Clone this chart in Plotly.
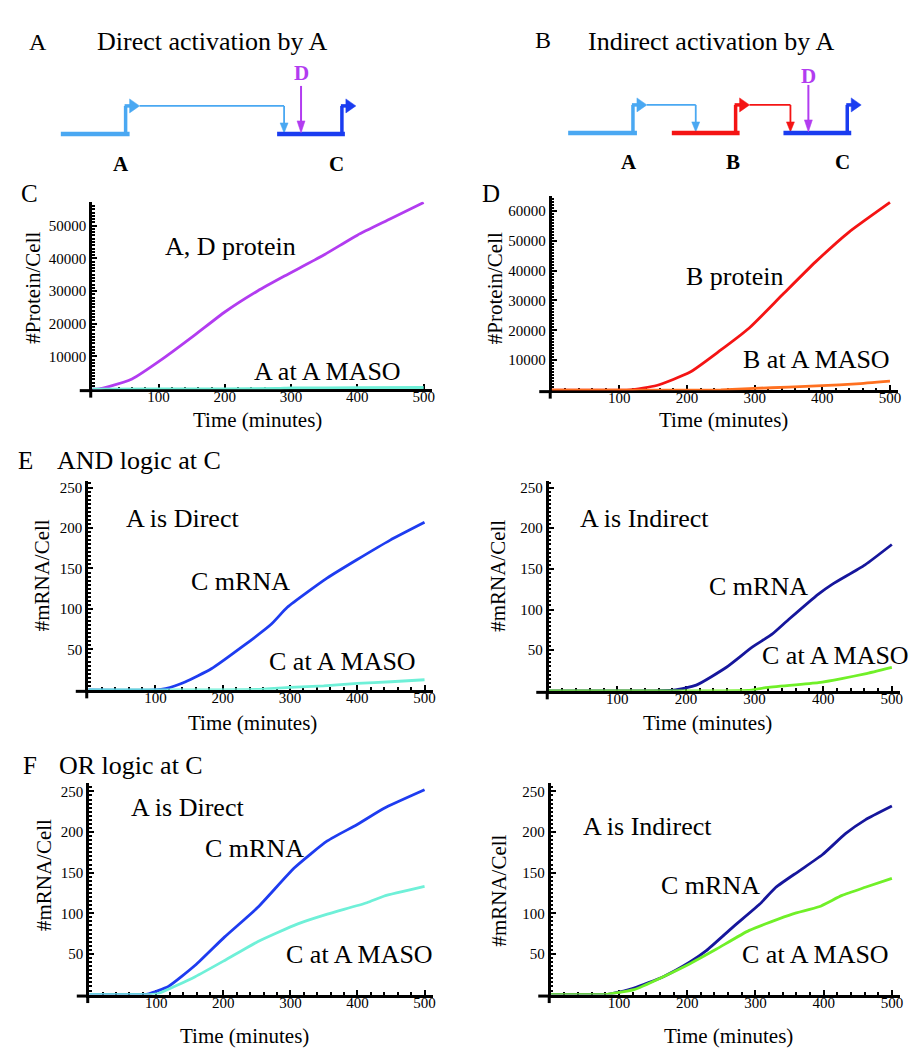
import plotly.graph_objects as go

W, H = 918, 1050
SERIF = "Liberation Serif, Times New Roman, Times, serif"

# ---- data ----
# C: protein per cell, direct activation
c_time = [0, 10, 25, 60, 105, 155, 200, 250, 290, 350, 400, 450, 500]
c_ad_protein = [0, 100, 800, 3100, 9100, 16600, 23600, 30100, 34600, 41100, 47100, 52100, 57100]
c_maso_time = [0, 100, 200, 280, 300, 400, 500]
c_a_maso = [0, 50, 100, 200, 350, 450, 500]

# D: protein per cell, indirect activation
d_time = [0, 100, 116, 155, 204, 248, 292, 341, 390, 439, 500]
d_b_protein = [0, 0, 100, 1550, 5960, 13100, 20800, 31900, 42900, 52800, 62800]
d_maso_time = [0, 100, 200, 250, 300, 350, 400, 450, 500]
d_b_maso = [0, 0, 0, 100, 600, 1000, 1500, 2100, 3000]

# E: AND logic at C
e_dir_time = [0, 100, 115, 144, 183, 228, 272, 296, 355, 400, 449, 500]
e_dir_c = [0, 0, 1.6, 9.8, 26, 52.7, 81, 102, 138, 161, 185, 207]
e_dir_maso_time = [0, 100, 200, 250, 300, 350, 400, 450, 500]
e_dir_maso = [0, 0, 0, 0.5, 3, 5, 8, 10, 12.5]

e_ind_time = [0, 150, 182, 215, 259, 297, 326, 350, 393, 413, 461, 500]
e_ind_c = [0, 0, 0.8, 7, 29, 54, 70, 88, 119, 131, 155, 180]
e_ind_maso_time = [0, 200, 290, 316, 393, 427, 461, 500]
e_ind_maso = [0, 0, 0.5, 4, 10, 15, 21, 29]

# F: OR logic at C
f_dir_time = [0, 80, 89, 118, 158, 202, 251, 306, 355, 399, 439, 500]
f_dir_c = [0, 0, 1, 10, 36, 71, 107, 156, 189, 209, 229, 252]
f_dir_maso_time = [0, 90, 104, 158, 202, 251, 311, 355, 414, 439, 500]
f_dir_maso = [0, 0, 1.6, 22, 42, 65, 87, 99, 113, 121, 133]

f_ind_time = [0, 80, 88, 122, 165, 204, 228, 267, 306, 330, 364, 398, 432, 461, 500]
f_ind_c = [0, 0, 1, 8, 22, 40, 54, 83, 111, 132, 152, 172, 198, 215, 232]
f_ind_maso_time = [0, 80, 88, 122, 165, 204, 243, 291, 354, 393, 427, 461, 500]
f_ind_maso = [0, 0, 1, 6, 22, 38, 56, 79, 99, 108, 122, 132, 143]

time_ticks = [100, 200, 300, 400, 500]
protein_ticks_c = [10000, 20000, 30000, 40000, 50000]
protein_ticks_d = [10000, 20000, 30000, 40000, 50000, 60000]
mrna_ticks = [50, 100, 150, 200, 250]

PURPLE = "#b23cf0"
CYAN = "#6ff0d8"
RED = "#f41414"
ORANGE = "#ff7020"
BLUE = "#1e3cf0"
NAVY = "#16169c"
GREEN = "#70f028"
LBLUE = "#4aa8f2"
DBLUE = "#1a3cf0"


def px(x, y):
    return x / W, 1 - y / H


# panel boxes in pixels: left, right, top, bottom (plot area)
panels = [
    dict(n="", box=(84.5, 425, 193, 380.5), ymax=57300, yt=protein_ticks_c, ydt=1000,
         series=[(c_time, c_ad_protein, PURPLE), (c_maso_time, c_a_maso, CYAN)]),
    dict(n="2", box=(545.5, 893, 187, 381.5), ymax=65000, yt=protein_ticks_d, ydt=1000,
         series=[(d_time, d_b_protein, RED), (d_maso_time, d_b_maso, ORANGE)]),
    dict(n="3", box=(80.5, 426, 472.5, 681.5), ymax=258, yt=mrna_ticks, ydt=5,
         series=[(e_dir_time, e_dir_c, BLUE), (e_dir_maso_time, e_dir_maso, CYAN)]),
    dict(n="4", box=(542.5, 895, 472.5, 682.5), ymax=258, yt=mrna_ticks, ydt=5,
         series=[(e_ind_time, e_ind_c, NAVY), (e_ind_maso_time, e_ind_maso, GREEN)]),
    dict(n="5", box=(81.5, 426, 775, 986.5), ymax=260, yt=mrna_ticks, ydt=5,
         series=[(f_dir_time, f_dir_c, BLUE), (f_dir_maso_time, f_dir_maso, CYAN)]),
    dict(n="6", box=(544.5, 895, 775, 986.5), ymax=260, yt=mrna_ticks, ydt=5,
         series=[(f_ind_time, f_ind_c, NAVY), (f_ind_maso_time, f_ind_maso, GREEN)]),
]

fig = go.Figure()
layout = {}
shapes = []
tickfont = dict(family=SERIF, size=15, color="black")

for p in panels:
    n = p["n"]
    L, R, T, B = p["box"]
    for xs, ys, col in p["series"]:
        fig.add_trace(go.Scatter(x=xs, y=ys, mode="lines",
                                 line=dict(color=col, width=2.8, shape="spline", smoothing=0.5),
                                 xaxis="x" + n, yaxis="y" + n, hoverinfo="skip"))
    layout["xaxis" + n] = dict(
        domain=[L / W, R / W], range=[0, 512], anchor="y" + n,
        showline=True, linewidth=3, linecolor="black", showgrid=False, zeroline=False,
        tickmode="array", tickvals=time_ticks, ticks="inside", ticklen=5, tickwidth=1.5,
        tickcolor="black", tickfont=tickfont, layer="below traces", ticklabelstandoff=-8,
        minor=dict(tickmode="linear", tick0=0, dtick=20, ticks="inside", ticklen=2.5,
                   tickwidth=1.5, tickcolor="black"))
    layout["yaxis" + n] = dict(
        domain=[1 - B / H, 1 - T / H], range=[0, p["ymax"]], anchor="x" + n,
        showline=True, linewidth=3, linecolor="black", showgrid=False, zeroline=False,
        tickmode="array", tickvals=p["yt"], tickformat="d", ticks="inside", ticklen=5,
        tickwidth=1.5, tickcolor="black", tickfont=tickfont, layer="below traces",
        minor=dict(tickmode="linear", tick0=0, dtick=p["ydt"], ticks="inside", ticklen=2.5,
                   tickwidth=1.5, tickcolor="black"))
    # axis stubs past the origin
    ax, ay = L - 1.5, B + 1.5
    x0, y0 = px(ax - 11, ay)
    x1, y1 = px(ax, ay)
    shapes.append(dict(type="line", xref="paper", yref="paper", x0=x0, y0=y0, x1=x1, y1=y1,
                       line=dict(color="black", width=3)))
    x0, y0 = px(ax, ay)
    x1, y1 = px(ax, ay + 7)
    shapes.append(dict(type="line", xref="paper", yref="paper", x0=x0, y0=y0, x1=x1, y1=y1,
                       line=dict(color="black", width=3)))


# ---- gene diagrams ----
def seg(xa, ya, xb, yb, col, w):
    a = px(xa, ya)
    b = px(xb, yb)
    shapes.append(dict(type="line", xref="paper", yref="paper", x0=a[0], y0=a[1], x1=b[0], y1=b[1],
                       line=dict(color=col, width=w)))


def tri(pts, col):
    path = "M " + " L ".join("%f,%f" % px(x, y) for x, y in pts) + " Z"
    shapes.append(dict(type="path", xref="paper", yref="paper", path=path,
                       fillcolor=col, line=dict(color=col, width=0.5)))


def gene(x_start, x_end, x_prom, y, col):
    seg(x_start, y, x_end, y, col, 4.5)
    seg(x_prom, y + 2, x_prom, y - 28, col, 3.5)
    seg(x_prom - 1, y - 28, x_prom + 5, y - 28, col, 3.5)
    tri([(x_prom + 4, y - 35), (x_prom + 14, y - 28), (x_prom + 4, y - 21)], col)


def link(xa, xb, y, col):
    seg(xa, y - 28, xb, y - 28, col, 1.8)
    seg(xb, y - 28, xb, y - 10, col, 1.8)
    tri([(xb - 4, y - 11), (xb + 4, y - 11), (xb, y - 1)], col)


def d_arrow(x, y):
    seg(x, y - 48, x, y - 10, PURPLE, 2)
    tri([(x - 4, y - 13), (x + 4, y - 13), (x, y - 1)], PURPLE)


gy = 125
gene(53, 122, 118, gy, LBLUE)
link(132, 277, gy, LBLUE)
gene(270, 338, 335, gy, DBLUE)
d_arrow(294, gy)

gy2 = 124
gene(562, 631, 627, gy2, LBLUE)
link(641, 690, gy2, LBLUE)
gene(666, 734, 730, gy2, RED)
link(744, 785, gy2, RED)
gene(778, 846, 842, gy2, DBLUE)
d_arrow(803, gy2)

annos = []


def text(s, x, y, size=26, col="black", angle=0, xanchor="center"):
    ax_, ay_ = px(x, y)
    annos.append(dict(text=s, x=ax_, y=ay_, xref="paper", yref="paper", showarrow=False,
                      xanchor=xanchor, yanchor="middle", textangle=angle,
                      font=dict(family=SERIF, size=size, color=col)))


# panel letters and titles
text("A", 30, 33, 24)
text("Direct activation by A", 205, 33, 26)
text("B", 537, 31, 24)
text("Indirect activation by A", 705, 33, 26)
text("<b>D</b>", 294, 64, 21, PURPLE)
text("<b>D</b>", 803, 67, 21, PURPLE)
text("<b>A</b>", 113, 155, 21)
text("<b>C</b>", 330, 155, 21)
text("<b>A</b>", 623, 153, 21)
text("<b>B</b>", 727, 153, 21)
text("<b>C</b>", 837, 153, 21)

text("C", 22, 185, 25)
text("D", 485, 185, 25)
text("E", 18, 452, 25)
text("AND logic at C", 131, 452, 26)
text("F", 22, 757, 25)
text("OR logic at C", 123, 757, 26)

# curve labels
text("A, D protein", 223, 238)
text("A at A MASO", 321, 363)
text("B protein", 729, 268)
text("B at A MASO", 811, 351)
text("A is Direct", 175, 510)
text("C mRNA", 233, 573)
text("C at A MASO", 336, 653)
text("A is Indirect", 639, 510)
text("C mRNA", 753, 578)
text("C at A MASO", 830, 647)
text("A is Direct", 180, 799)
text("C mRNA", 247, 840)
text("C at A MASO", 353, 946)
text("A is Indirect", 642, 818)
text("C mRNA", 705, 877)
text("C at A MASO", 810, 946)

# axis titles
text("#Protein/Cell", 25, 279, 21, angle=-90)
text("#Protein/Cell", 488, 279, 21, angle=-90)
text("#mRNA/Cell", 35, 567, 21, angle=-90)
text("#mRNA/Cell", 492, 567, 21, angle=-90)
text("#mRNA/Cell", 36, 867, 21, angle=-90)
text("#mRNA/Cell", 493, 882, 21, angle=-90)
for tx, ty in [(250, 411), (718, 411), (245, 715), (702, 715), (237, 1028), (723, 1028)]:
    text("Time (minutes)", tx, ty, 21)

fig.update_layout(width=W, height=H, margin=dict(l=0, r=0, t=0, b=0),
                  paper_bgcolor="white", plot_bgcolor="white", showlegend=False,
                  shapes=shapes, annotations=annos, **layout)

fig.write_html("out.html")
